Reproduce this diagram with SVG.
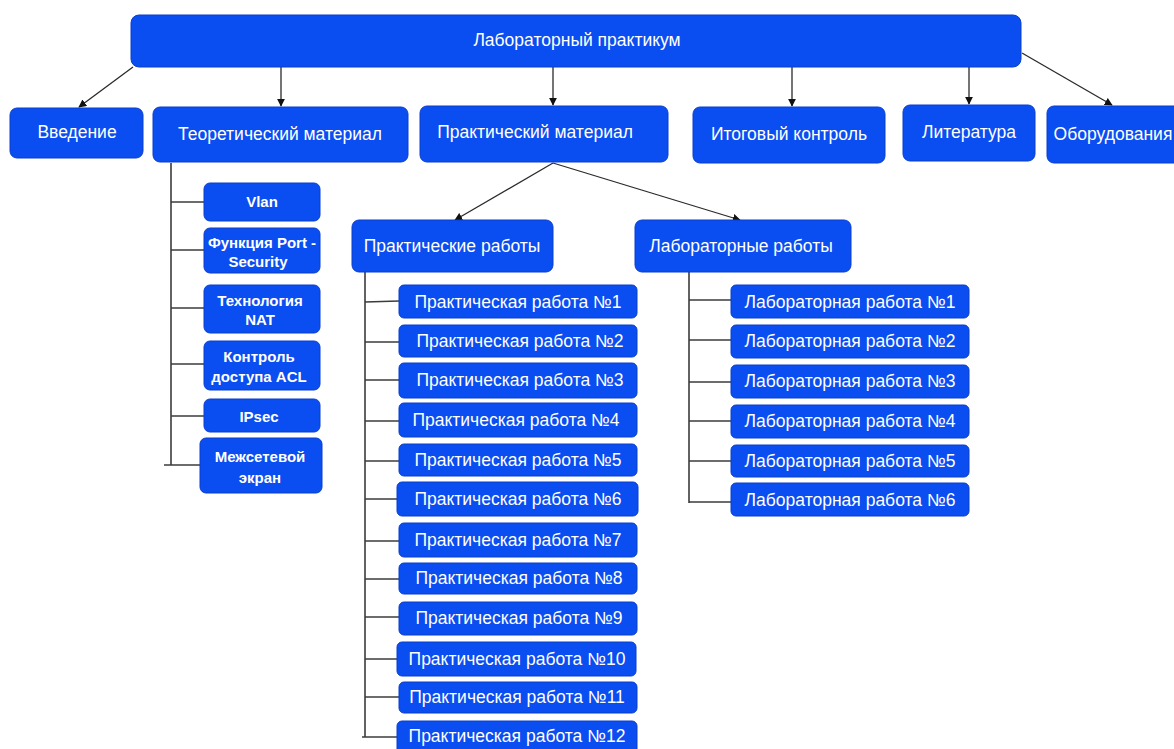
<svg xmlns="http://www.w3.org/2000/svg" width="1174" height="749" viewBox="0 0 1174 749">
  <style>
    .box { fill: #0a4df0; stroke: #0a3fcc; stroke-width: 1; }
    .lbl { fill: #ffffff; font-family: "Liberation Sans", Arial, sans-serif; font-size: 17.5px; text-anchor: middle; dominant-baseline: central; }
    .sm { font-size: 15px; font-weight: bold; }
    .edge { fill: none; stroke: #2a2a2a; stroke-width: 1.3; }
    .tree { fill: none; stroke: #3c3c3c; stroke-width: 1.6; }
  </style>
  <defs>
    <marker id="arrow" viewBox="0 0 10 10" refX="9" refY="5" markerWidth="8" markerHeight="8" orient="auto" markerUnits="userSpaceOnUse">
      <path d="M0,0 L10,5 L0,10 z" fill="#111"/>
    </marker>
  </defs>
  <rect width="1174" height="749" fill="#ffffff"/>

  <!-- connectors -->
  <g id="connectors">
    <path class="edge" d="M133,67 L79,107" marker-end="url(#arrow)"/>
    <path class="edge" d="M281,67 L281,106" marker-end="url(#arrow)"/>
    <path class="edge" d="M553,67 L553,105" marker-end="url(#arrow)"/>
    <path class="edge" d="M792,67 L792,106" marker-end="url(#arrow)"/>
    <path class="edge" d="M969,67 L969,104" marker-end="url(#arrow)"/>
    <path class="edge" d="M1022,53 L1112,105" marker-end="url(#arrow)"/>
    <path class="edge" d="M553,163 L455,220" marker-end="url(#arrow)"/>
    <path class="edge" d="M553,163 L740,220" marker-end="url(#arrow)"/>
    <!-- theory branch -->
    <path class="tree" d="M171,163 L171,465 M164,465 L201,465 M171,202 L204,202 M171,250 L204,250 M171,308 L204,308 M171,364 L204,364 M171,416 L204,416"/>
    <!-- practical works branch -->
    <path class="tree" d="M365,272 L365,737 M362,737 L398,737 M365,302 L399,301 M365,342 L399,342 M365,380 L399,380 M365,421 L399,421 M365,461 L399,461 M365,499 L397,499 M365,541 L399,541 M365,579 L399,579 M365,617 L399,617 M365,659 L397,659 M365,697 L399,697"/>
    <!-- lab works branch -->
    <path class="tree" d="M689,272 L689,503 M689,300 L731,300 M689,340 L731,340 M689,382 L731,382 M689,421 L731,421 M689,461 L731,461 M689,502 L731,502"/>
  </g>

  <g id="root"><rect class="box" x="131" y="15" width="890" height="52" rx="8"/><text class="lbl" x="577" y="40">Лабораторный практикум</text></g>

  <g id="intro"><rect class="box" x="10" y="108" width="133" height="50" rx="7"/><text class="lbl" x="77" y="132">Введение</text></g>
  <g id="theory"><rect class="box" x="153" y="107" width="255" height="55" rx="7"/><text class="lbl" x="280" y="134">Теоретический материал</text></g>
  <g id="practice"><rect class="box" x="420" y="106" width="248" height="56" rx="7"/><text class="lbl" x="535" y="132">Практический материал</text></g>
  <g id="final"><rect class="box" x="693" y="107" width="192" height="56" rx="7"/><text class="lbl" x="789" y="134">Итоговый контроль</text></g>
  <g id="literature"><rect class="box" x="903" y="105" width="132" height="56" rx="7"/><text class="lbl" x="969" y="132">Литература</text></g>
  <g id="equipment"><rect class="box" x="1047" y="106" width="140" height="57" rx="7"/><text class="lbl" x="1113" y="134">Оборудования</text></g>

  <g id="theory-vlan"><rect class="box" x="204" y="183" width="116" height="38" rx="6"/><text class="lbl sm" x="262" y="201">Vlan</text></g>
  <g id="theory-port"><rect class="box" x="204" y="228" width="116" height="45" rx="6"/><text class="lbl sm" x="262" y="242">Функция Port -</text><text class="lbl sm" x="258" y="261">Security</text></g>
  <g id="theory-nat"><rect class="box" x="204" y="285" width="116" height="48" rx="6"/><text class="lbl sm" x="260" y="300">Технология</text><text class="lbl sm" x="260" y="319">NAT</text></g>
  <g id="theory-acl"><rect class="box" x="204" y="341" width="116" height="49" rx="6"/><text class="lbl sm" x="259" y="356">Контроль</text><text class="lbl sm" x="259" y="376">доступа ACL</text></g>
  <g id="theory-ipsec"><rect class="box" x="204" y="399" width="116" height="33" rx="6"/><text class="lbl sm" x="259" y="416">IPsec</text></g>
  <g id="theory-firewall"><rect class="box" x="200" y="438" width="122" height="55" rx="6"/><text class="lbl sm" x="260" y="456">Межсетевой</text><text class="lbl sm" x="260" y="477">экран</text></g>

  <g id="practical-works"><rect class="box" x="352" y="220" width="201" height="52" rx="7"/><text class="lbl" x="452" y="246">Практические работы</text></g>
  <g id="lab-works"><rect class="box" x="635" y="220" width="216" height="52" rx="7"/><text class="lbl" x="741" y="246">Лабораторные работы</text></g>

  <g id="pr1"><rect class="box" x="399" y="285" width="238" height="33" rx="5"/><text class="lbl" x="518" y="302">Практическая работа №1</text></g>
  <g id="pr2"><rect class="box" x="399" y="325" width="238" height="32" rx="5"/><text class="lbl" x="520" y="341">Практическая работа №2</text></g>
  <g id="pr3"><rect class="box" x="399" y="363" width="238" height="35" rx="5"/><text class="lbl" x="520" y="380">Практическая работа №3</text></g>
  <g id="pr4"><rect class="box" x="399" y="403" width="238" height="34" rx="5"/><text class="lbl" x="516" y="420">Практическая работа №4</text></g>
  <g id="pr5"><rect class="box" x="399" y="444" width="238" height="32" rx="5"/><text class="lbl" x="518" y="460">Практическая работа №5</text></g>
  <g id="pr6"><rect class="box" x="397" y="482" width="241" height="34" rx="5"/><text class="lbl" x="518" y="499">Практическая работа №6</text></g>
  <g id="pr7"><rect class="box" x="399" y="523" width="238" height="34" rx="5"/><text class="lbl" x="518" y="540">Практическая работа №7</text></g>
  <g id="pr8"><rect class="box" x="399" y="563" width="238" height="31" rx="5"/><text class="lbl" x="519" y="578">Практическая работа №8</text></g>
  <g id="pr9"><rect class="box" x="399" y="602" width="238" height="33" rx="5"/><text class="lbl" x="519" y="618">Практическая работа №9</text></g>
  <g id="pr10"><rect class="box" x="397" y="642" width="239" height="34" rx="5"/><text class="lbl" x="517" y="659">Практическая работа №10</text></g>
  <g id="pr11"><rect class="box" x="399" y="682" width="238" height="31" rx="5"/><text class="lbl" x="517" y="697">Практическая работа №11</text></g>
  <g id="pr12"><rect class="box" x="397" y="721" width="240" height="36" rx="5"/><text class="lbl" x="517" y="736">Практическая работа №12</text></g>

  <g id="lr1"><rect class="box" x="731" y="285" width="238" height="33" rx="5"/><text class="lbl" x="850" y="302">Лабораторная работа №1</text></g>
  <g id="lr2"><rect class="box" x="731" y="325" width="238" height="33" rx="5"/><text class="lbl" x="850" y="341">Лабораторная работа №2</text></g>
  <g id="lr3"><rect class="box" x="731" y="365" width="238" height="33" rx="5"/><text class="lbl" x="850" y="381">Лабораторная работа №3</text></g>
  <g id="lr4"><rect class="box" x="731" y="405" width="238" height="33" rx="5"/><text class="lbl" x="850" y="421">Лабораторная работа №4</text></g>
  <g id="lr5"><rect class="box" x="731" y="445" width="238" height="32" rx="5"/><text class="lbl" x="850" y="461">Лабораторная работа №5</text></g>
  <g id="lr6"><rect class="box" x="731" y="483" width="238" height="33" rx="5"/><text class="lbl" x="850" y="500">Лабораторная работа №6</text></g>
</svg>
